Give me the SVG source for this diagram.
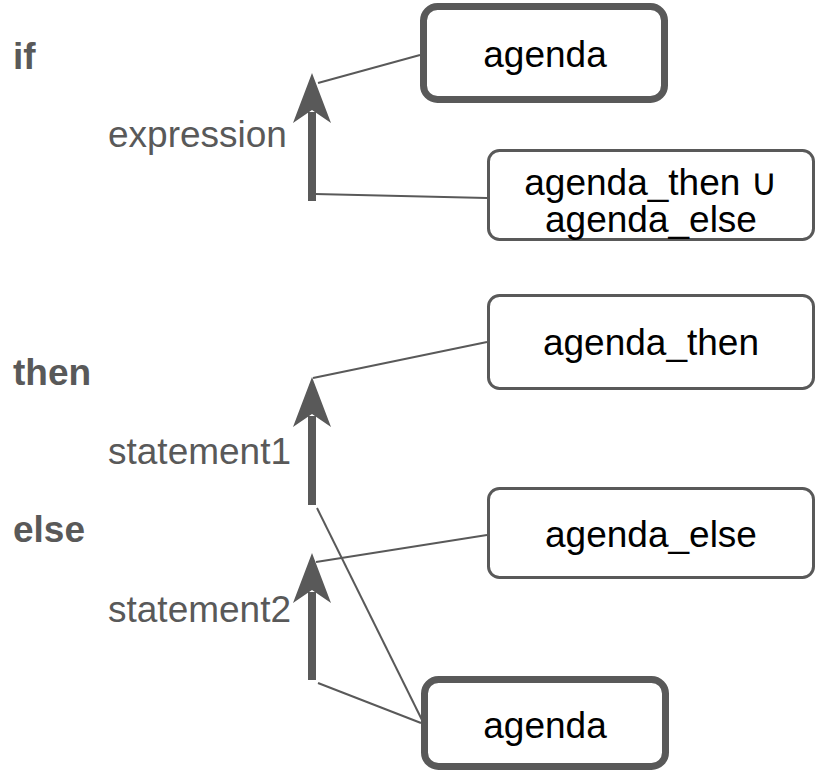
<svg xmlns="http://www.w3.org/2000/svg" xmlns:xlink="http://www.w3.org/1999/xlink" width="817" height="777" viewBox="0 0 817 777">
<style>
.kw{font-family:"Liberation Sans",Arial,sans-serif;font-size:37px;font-weight:bold;fill:#595959}
.lbl{font-family:"Liberation Sans",Arial,sans-serif;font-size:37px;fill:#595959}
.txt{font-family:"Liberation Sans","DejaVu Sans",Arial,sans-serif;font-size:37px;fill:#000;text-anchor:middle}
.box{fill:#fff;stroke:#595959;stroke-width:3}
.thick{fill:#fff;stroke:#595959;stroke-width:7}
.ln{stroke:#595959;stroke-width:2;fill:none}
.shaft{stroke:#595959;stroke-width:8;fill:none}
.head{fill:#595959}
</style>
<defs>
<path id="ah" d="M0,0 L19,50 L0,37 L-19,50 Z"/>
</defs>
<rect width="817" height="777" fill="#fff"/>
<g id="keywords">
<text class="kw" x="13" y="69">if</text>
<text class="kw" x="13" y="385">then</text>
<text class="kw" x="13" y="542">else</text>
</g>
<g id="labels">
<text class="lbl" x="108" y="147">expression</text>
<text class="lbl" x="108" y="464">statement1</text>
<text class="lbl" x="108" y="622">statement2</text>
</g>
<g id="connectors">
<line class="ln" x1="420" y1="55" x2="318" y2="83"/>
<line class="ln" x1="487" y1="198" x2="315" y2="194"/>
<line class="ln" x1="487" y1="342" x2="313" y2="378"/>
<line class="ln" x1="317" y1="508" x2="422" y2="720"/>
<line class="ln" x1="487" y1="535" x2="316" y2="562"/>
<line class="ln" x1="318" y1="683" x2="421" y2="723"/>
<line class="shaft" x1="312" y1="201" x2="312" y2="112"/>
<use xlink:href="#ah" class="head" x="312" y="73"/>
<line class="shaft" x1="312" y1="505" x2="312" y2="416"/>
<use xlink:href="#ah" class="head" x="312" y="377"/>
<line class="shaft" x1="312" y1="680" x2="312" y2="592"/>
<use xlink:href="#ah" class="head" x="312" y="553"/>
</g>
<g id="node-agenda-top">
<rect class="thick" x="423.5" y="6.5" width="241" height="93" rx="14"/>
<text class="txt" x="545" y="67">agenda</text>
</g>
<g id="node-union">
<rect class="box" x="488.5" y="150.5" width="325" height="89" rx="11"/>
<text class="txt" x="651" y="195">agenda_then ∪</text>
<text class="txt" x="651" y="232">agenda_else</text>
</g>
<g id="node-agenda-then">
<rect class="box" x="488.5" y="295.5" width="325" height="93" rx="11"/>
<text class="txt" x="651" y="355">agenda_then</text>
</g>
<g id="node-agenda-else">
<rect class="box" x="488.5" y="488.5" width="325" height="89" rx="11"/>
<text class="txt" x="651" y="547">agenda_else</text>
</g>
<g id="node-agenda-bottom">
<rect class="thick" x="424.5" y="679.5" width="241" height="87" rx="14"/>
<text class="txt" x="545" y="738">agenda</text>
</g>
</svg>
